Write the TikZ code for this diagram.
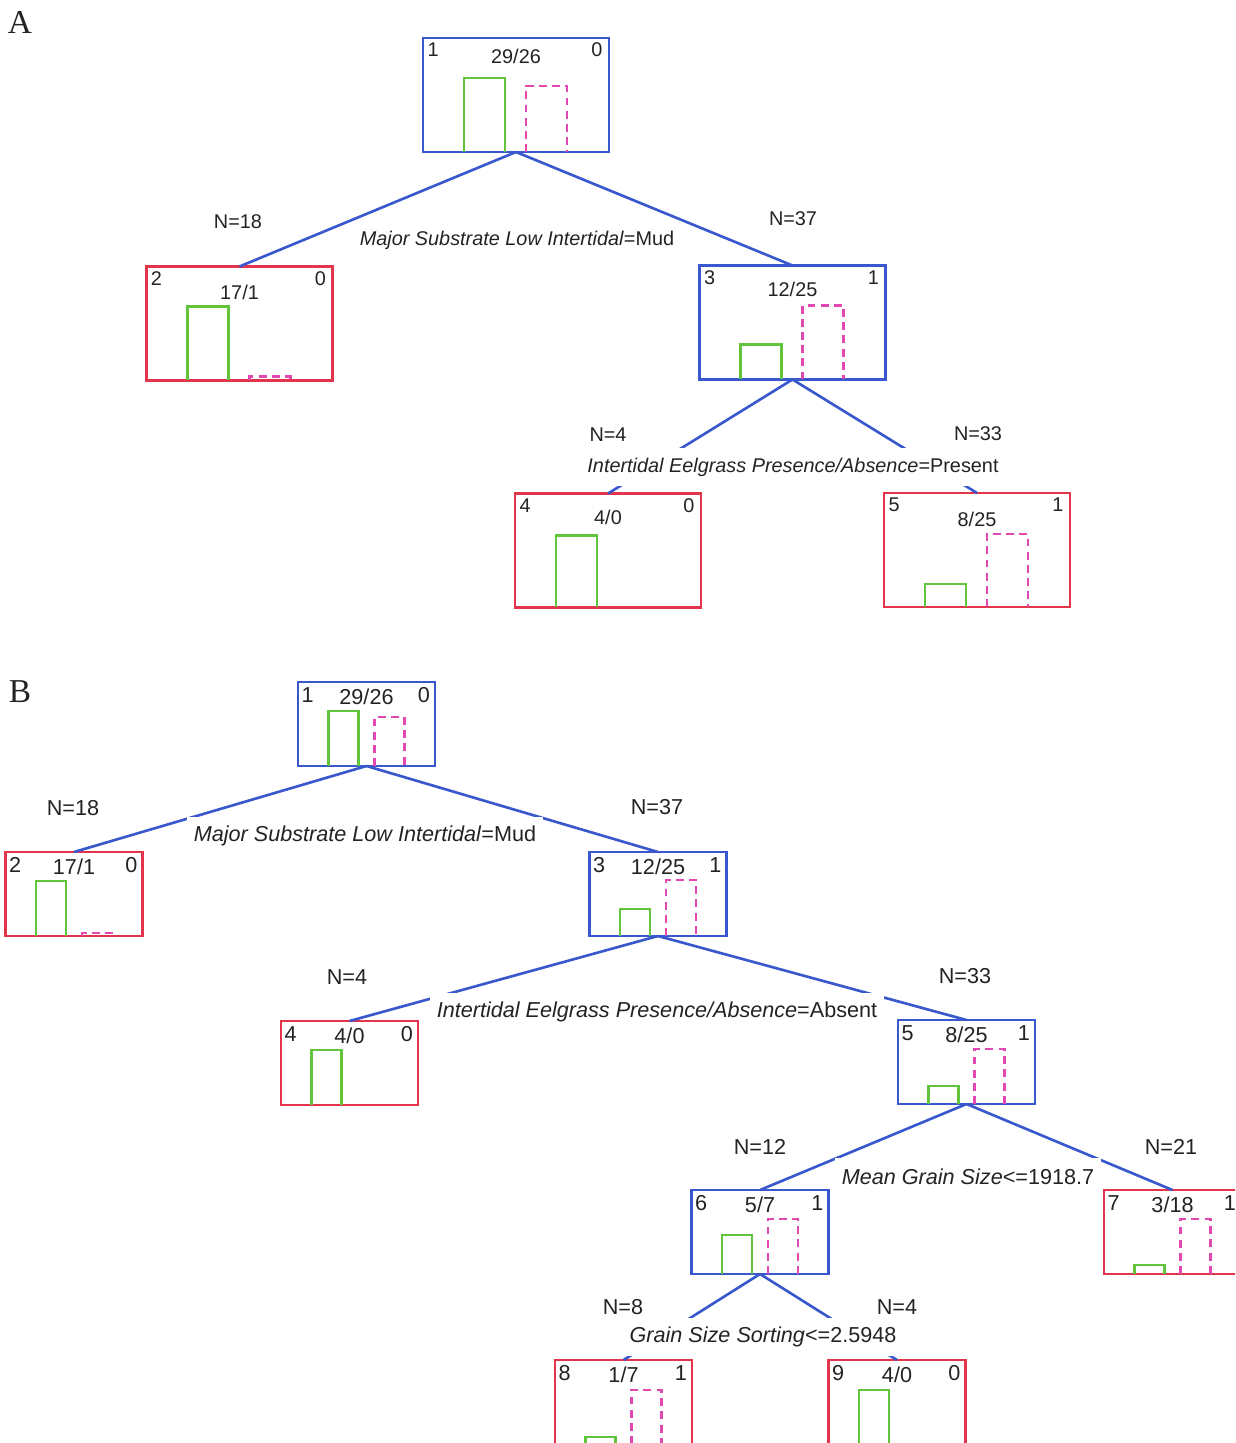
\documentclass[tikz,border=0pt]{standalone}
\usepackage{fontspec}
\setmainfont{Liberation Sans}
\newfontfamily\panelfont{Liberation Serif}
\usetikzlibrary{positioning}
\definecolor{splitblue}{RGB}{58,88,205}
\definecolor{leafred}{RGB}{226,52,74}
\definecolor{presgreen}{RGB}{98,196,60}
\definecolor{abspink}{RGB}{226,72,178}
\definecolor{inkgray}{RGB}{35,35,35}

\begin{document}
\begin{tikzpicture}[
    x=0.02cm, y=-0.02cm,
    boxA/.style={draw=#1, line width=1.5pt, minimum width=3.72cm, minimum height=2.28cm, inner sep=0pt, outer sep=0pt},
    boxB/.style={draw=#1, line width=1.5pt, minimum width=2.74cm, minimum height=1.68cm, inner sep=0pt, outer sep=0pt},
    edge/.style={splitblue, line width=1.5pt},
    gbar/.style={presgreen, line width=1.2pt},
    pbar/.style={abspink, line width=1.2pt, dash pattern=on 4.5pt off 3pt},
    txtA/.style={font=\fontsize{11.3}{13}\selectfont, text=inkgray, inner sep=0pt},
    txtB/.style={font=\fontsize{12.3}{14}\selectfont, text=inkgray, inner sep=0pt},
    cond/.style={fill=white, inner xsep=0.14cm, inner ysep=0pt, minimum height=0.76cm},
    panel/.style={font=\panelfont\fontsize{19}{21}\selectfont, text=inkgray, inner sep=0pt},
  ]
    \fill[white] (0,0) rectangle (1235,1443);
    \clip (0,0) rectangle (1235,1443);

    % ===== PANEL A =====
    \node[panel] (panelA) at (20,22) {A};

    % boxes: name/x/y/id/counts/class/colour/green/pink/count offset
    \foreach \nm/\cx/\cy/\id/\cnt/\cls/\col/\gh/\ph/\dy in {
        a1/516/95/1/{29/26}/0/splitblue/74/66/18,
        a2/239.5/323.5/2/{17/1}/0/leafred/74/4/26,
        a3/792.5/322.5/3/{12/25}/1/splitblue/35/74/24,
        a4/608/550.5/4/{4/0}/0/leafred/72/0/24,
        a5/977/550/5/{8/25}/1/leafred/23/73/26}{
      \node[boxA=\col] (\nm) at (\cx,\cy) {};
      \node[txtA] (\nm-id) at ([xshift=0.2cm, yshift=-0.24cm]\nm.north west) {\id};
      \node[txtA] (\nm-cnt) at ([yshift=-\dy*0.02cm]\nm.north) {\cnt};
      \node[txtA] (\nm-cls) at ([xshift=-0.24cm, yshift=-0.24cm]\nm.north east) {\cls};
      \draw[gbar] ([xshift=0.82cm]\nm.south west) -- ++(0,-\gh) -- ++(41,0) -- ++(0,\gh);
      \ifnum\ph>0
        \draw[pbar] ([xshift=2.06cm]\nm.south west) -- ++(0,-\ph) -- ++(41,0) -- ++(0,\ph);
      \fi
    }

    % splits
    \draw[edge] (a1.south) -- (a2.north);
    \draw[edge] (a1.south) -- (a3.north);
    \draw[edge] (a3.south) -- (a4.north);
    \draw[edge] (a3.south) -- (a5.north);

    \node[txtA] (a-n18) at (238,222) {N=18};
    \node[txtA] (a-n37) at (793,219) {N=37};
    \node[txtA, cond] (a-split1) at (517,240) {\textit{Major Substrate Low Intertidal}=Mud};
    \node[txtA] (a-n4) at (608,435) {N=4};
    \node[txtA] (a-n33) at (978,434) {N=33};
    \node[txtA, cond] (a-split2) at (793,467) {\textit{Intertidal Eelgrass Presence/Absence}=Present};

    % ===== PANEL B =====
    \node[panel] (panelB) at (20,692) {B};

    \foreach \nm/\cx/\cy/\id/\cnt/\cls/\col/\gh/\ph in {
        b1/366.5/724/1/{29/26}/0/splitblue/55/49,
        b2/74/894/2/{17/1}/0/leafred/55/3,
        b3/658/894/3/{12/25}/1/splitblue/27/56,
        b4/349.5/1063/4/{4/0}/0/leafred/55/0,
        b5/966.5/1062/5/{8/25}/1/splitblue/18/55,
        b6/760/1232/6/{5/7}/1/splitblue/39/55,
        b7/1172.5/1232/7/{3/18}/1/leafred/9/55,
        b8/623.5/1402/8/{1/7}/1/leafred/7/54,
        b9/897/1402/9/{4/0}/0/leafred/54/0}{
      \node[boxB=\col] (\nm) at (\cx,\cy) {};
      \node[txtB] (\nm-id) at ([xshift=0.19cm, yshift=-0.26cm]\nm.north west) {\id};
      \node[txtB] (\nm-cnt) at ([yshift=-0.3cm]\nm.north) {\cnt};
      \node[txtB] (\nm-cls) at ([xshift=-0.22cm, yshift=-0.26cm]\nm.north east) {\cls};
      \draw[gbar] ([xshift=0.61cm]\nm.south west) -- ++(0,-\gh) -- ++(30,0) -- ++(0,\gh);
      \ifnum\ph>0
        \draw[pbar] ([xshift=1.53cm]\nm.south west) -- ++(0,-\ph) -- ++(30,0) -- ++(0,\ph);
      \fi
    }

    % splits
    \draw[edge] (b1.south) -- (b2.north);
    \draw[edge] (b1.south) -- (b3.north);
    \draw[edge] (b3.south) -- (b4.north);
    \draw[edge] (b3.south) -- (b5.north);
    \draw[edge] (b5.south) -- (b6.north);
    \draw[edge] (b5.south) -- (b7.north);
    \draw[edge] (b6.south) -- (b8.north);
    \draw[edge] (b6.south) -- (b9.north);

    \node[txtB] (b-n18) at (73,808) {N=18};
    \node[txtB] (b-n37) at (657,807) {N=37};
    \node[txtB, cond] (b-split1) at (365,836) {\textit{Major Substrate Low Intertidal}=Mud};
    \node[txtB] (b-n4) at (347,977) {N=4};
    \node[txtB] (b-n33) at (965,976) {N=33};
    \node[txtB, cond] (b-split2) at (657,1012) {\textit{Intertidal Eelgrass Presence/Absence}=Absent};
    \node[txtB] (b-n12) at (760,1147) {N=12};
    \node[txtB] (b-n21) at (1171,1147) {N=21};
    \node[txtB, cond] (b-split3) at (968,1177) {\textit{Mean Grain Size}<=1918.7};
    \node[txtB] (b-n8) at (623,1307) {N=8};
    \node[txtB] (b-n4b) at (897,1307) {N=4};
    \node[txtB, cond] (b-split4) at (763,1337) {\textit{Grain Size Sorting}<=2.5948};

\end{tikzpicture}
\end{document}
